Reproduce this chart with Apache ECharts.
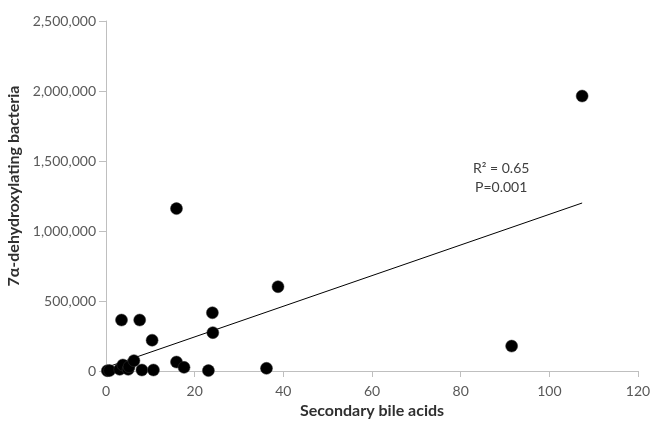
<!DOCTYPE html>
<html>
<head>
<meta charset="utf-8">
<script src="https://cdn.jsdelivr.net/npm/echarts@6/dist/echarts.min.js"></script>
<style>
html,body{margin:0;padding:0;background:#fff;}
#chart{width:652px;height:422px;}
</style>
</head>
<body>
<div id="chart"></div>
<script>
// Scatter data (Secondary bile acids vs 7α-dehydroxylating bacteria)
var bileAcids = [0.3, 0.8, 3.1, 3.8, 5.0, 5.2, 6.3, 8.1, 10.7, 3.5, 7.6, 10.4, 15.9, 15.9, 17.6, 23.1, 24.0, 24.1, 36.2, 38.8, 91.5, 107.4];
var bacteria  = [2000, 3000, 12000, 43000, 12000, 31000, 74000, 7000, 7000, 364000, 364000, 220000, 1160000, 64000, 26000, 3000, 416000, 274000, 19000, 602000, 178000, 1964000];
// Trend line end points
var trendX = [0.3, 107.4];
var trendY = [28000, 1200000];
// Axis ticks
var xTicks = [0, 20, 40, 60, 80, 100, 120];
var yTicks = [0, 500000, 1000000, 1500000, 2000000, 2500000];
var annotation = ['R\u00B2 = 0.65', 'P=0.001'];

var pts = bileAcids.map(function(x, i){ return [x, bacteria[i]]; });
var trend = trendX.map(function(x, i){ return [x, trendY[i]]; });

var font = 'Lato, "Open Sans", sans-serif';
var chart = echarts.init(document.getElementById('chart'), null, {renderer:'canvas'});
chart.setOption({
  animation: false,
  backgroundColor: '#fff',
  grid: {left: 106, right: 14, top: 21, bottom: 51, containLabel: false, outerBoundsMode: 'none'},
  xAxis: {
    type: 'value',
    min: xTicks[0], max: xTicks[xTicks.length-1], interval: xTicks[1]-xTicks[0],
    name: 'Secondary bile acids',
    nameLocation: 'middle', nameGap: 32,
    nameTextStyle: {fontFamily: font, fontSize: 16, fontWeight: 'bold', color: '#303030'},
    axisLine: {show: true, lineStyle: {color: '#bfbfbf', width: 1}},
    axisTick: {show: true, inside: false, length: 6, lineStyle: {color: '#bfbfbf'}},
    axisLabel: {fontFamily: font, fontSize: 14, color: '#595959', margin: 13},
    splitLine: {show: false}
  },
  yAxis: {
    type: 'value',
    min: yTicks[0], max: yTicks[yTicks.length-1], interval: yTicks[1]-yTicks[0],
    name: '7\u03B1-dehydroxylating bacteria',
    nameLocation: 'middle', nameGap: 78, nameRotate: 90,
    nameTextStyle: {fontFamily: font, fontSize: 16, fontWeight: 'bold', color: '#303030', padding: [0, 0, 0, 20]},
    axisLine: {show: true, lineStyle: {color: '#bfbfbf', width: 1}},
    axisTick: {show: true, inside: false, length: 7, lineStyle: {color: '#bfbfbf'}},
    axisLabel: {fontFamily: font, fontSize: 14, color: '#595959', margin: 10,
      formatter: function(v){ return v.toLocaleString('en-US'); }},
    splitLine: {show: false}
  },
  series: [
    {
      type: 'line',
      data: trend,
      showSymbol: false,
      symbol: 'none',
      lineStyle: {color: '#000', width: 1},
      z: 1
    },
    {
      type: 'scatter',
      data: pts,
      symbol: 'circle',
      symbolSize: 12,
      itemStyle: {color: '#000', borderColor: '#333', borderWidth: 0.5, opacity: 1},
      z: 2
    }
  ],
  graphic: [
    {
      type: 'text',
      left: 473, top: 159,
      style: {
        text: annotation.join('\n'),
        fontFamily: font, fontSize: 14, fill: '#404040',
        textAlign: 'center', lineHeight: 19
      }
    }
  ]
});
</script>
</body>
</html>
